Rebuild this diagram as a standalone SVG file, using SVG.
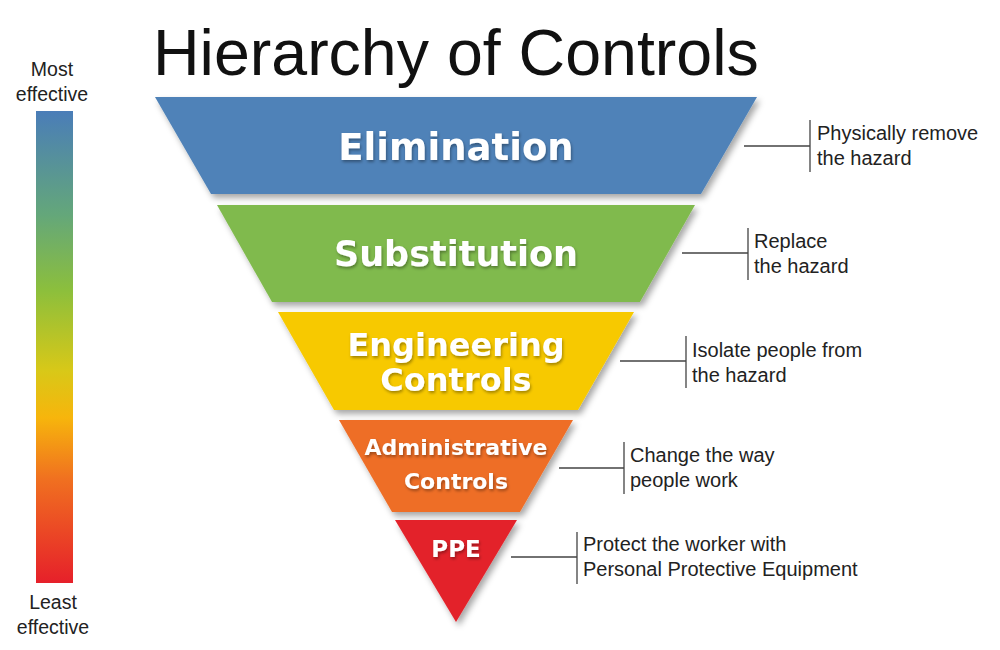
<svg xmlns="http://www.w3.org/2000/svg" width="1000" height="650" viewBox="0 0 1000 650">
<defs>
<linearGradient id="bar" x1="0" y1="0" x2="0" y2="1">
<stop offset="0" stop-color="#4a7db8"/>
<stop offset="0.22" stop-color="#64a77a"/>
<stop offset="0.38" stop-color="#8cbf3c"/>
<stop offset="0.55" stop-color="#d8c818"/>
<stop offset="0.65" stop-color="#f7b50c"/>
<stop offset="0.78" stop-color="#f07020"/>
<stop offset="1" stop-color="#e6202a"/>
</linearGradient>
<filter id="sh" x="-10%" y="-10%" width="125%" height="130%">
<feDropShadow dx="3" dy="4" stdDeviation="3" flood-color="#000" flood-opacity="0.35"/>
</filter>
<filter id="tsh" x="-10%" y="-20%" width="120%" height="150%">
<feDropShadow dx="1" dy="2" stdDeviation="1.5" flood-color="#000" flood-opacity="0.35"/>
</filter>
</defs>
<style>
.lvl{font-family:"DejaVu Sans",Verdana,sans-serif;font-weight:bold;fill:#fff;text-anchor:middle;filter:url(#tsh)}
.note{font-family:"Liberation Sans",Arial,sans-serif;font-size:20px;fill:#222}
.side{font-family:"Liberation Sans",Arial,sans-serif;font-size:19.5px;fill:#222;text-anchor:middle}
.br{stroke:#444;stroke-width:1.3;fill:none}
</style>
<rect width="1000" height="650" fill="#fff"/>
<text x="153" y="75" font-family="Liberation Sans, Arial, sans-serif" font-size="64.5" fill="#111">Hierarchy of Controls</text>
<g id="scale">
<rect x="36" y="111" width="37" height="472" fill="url(#bar)"/>
<text class="side" x="52" y="76">Most</text>
<text class="side" x="52" y="101">effective</text>
<text class="side" x="53" y="609">Least</text>
<text class="side" x="53" y="634">effective</text>
</g>
<g id="elimination">
<polygon points="155,97 757,97 701,194 211,194" fill="#4f82b8" filter="url(#sh)"/>
<text class="lvl" x="456" y="160" font-size="37">Elimination</text>
</g>
<g id="substitution">
<polygon points="217,205 695,205 640,302 272,302" fill="#80ba4e" filter="url(#sh)"/>
<text class="lvl" x="456" y="266" font-size="35">Substitution</text>
</g>
<g id="engineering">
<polygon points="278,312 634,312 578,410 334,410" fill="#f7c900" filter="url(#sh)"/>
<text class="lvl" x="456" y="356" font-size="32">Engineering</text>
<text class="lvl" x="456" y="391" font-size="32">Controls</text>
</g>
<g id="administrative">
<polygon points="339,420 573,420 520,512 392,512" fill="#ee6e28" filter="url(#sh)"/>
<text class="lvl" x="456" y="455" font-size="22">Administrative</text>
<text class="lvl" x="456" y="489" font-size="22">Controls</text>
</g>
<g id="ppe">
<polygon points="395,520 517,520 456,622" fill="#e3222a" filter="url(#sh)"/>
<text class="lvl" x="456" y="557" font-size="23">PPE</text>
</g>
<g id="connectors">
<path class="br" d="M744,146 H810 M810,120 V172"/>
<path class="br" d="M682,253 H748 M748,228 V280"/>
<path class="br" d="M620,361 H686 M686,336 V388"/>
<path class="br" d="M559,468 H624 M624,442 V494"/>
<path class="br" d="M511,557 H577 M577,532 V584"/>
</g>
<g id="notes">
<text class="note" x="817" y="140">Physically remove</text>
<text class="note" x="817" y="165">the hazard</text>
<text class="note" x="754" y="248">Replace</text>
<text class="note" x="754" y="273">the hazard</text>
<text class="note" x="692" y="357">Isolate people from</text>
<text class="note" x="692" y="382">the hazard</text>
<text class="note" x="630" y="462">Change the way</text>
<text class="note" x="630" y="487">people work</text>
<text class="note" x="583" y="551">Protect the worker with</text>
<text class="note" x="583" y="576">Personal Protective Equipment</text>
</g>
</svg>
